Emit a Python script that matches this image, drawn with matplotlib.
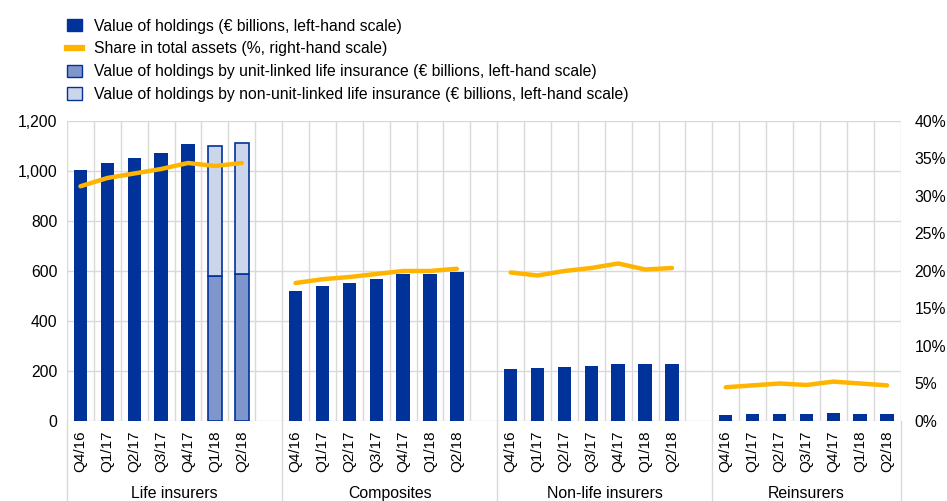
import matplotlib.pyplot as plt
from matplotlib.patches import Patch
from matplotlib.lines import Line2D
import numpy as np

plt.rcParams['font.family'] = ['Liberation Sans', 'DejaVu Sans']

groups = ["Life insurers", "Composites", "Non-life insurers", "Reinsurers"]
quarters = ["Q4/16", "Q1/17", "Q2/17", "Q3/17", "Q4/17", "Q1/18", "Q2/18"]

# value of holdings (EUR billions)
holdings = {
    "Life insurers": [1005, 1030, 1051, 1073, 1106, None, None],
    "Composites": [521, 540, 552, 567, 587, 587, 595],
    "Non-life insurers": [207, 211, 217, 220, 227, 227, 228],
    "Reinsurers": [25, 26, 26, 26, 30, 27, 26],
}
# life insurers Q1/18 and Q2/18 split
unit_linked = [579, 587]
non_unit_linked = [521, 526]
# share in total assets (%)
share = {
    "Life insurers": [31.3, 32.4, 33.0, 33.6, 34.4, 34.0, 34.4],
    "Composites": [18.4, 18.9, 19.2, 19.6, 20.0, 20.0, 20.3],
    "Non-life insurers": [19.8, 19.4, 20.0, 20.4, 21.0, 20.2, 20.4],
    "Reinsurers": [4.5, 4.75, 5.0, 4.8, 5.25, 5.0, 4.75],
}

dark = "#003299"
mid = "#7F96CD"
light = "#CCD6EB"
yellow = "#FFB400"
grid = "#D9D9D9"

fig = plt.figure(figsize=(9.47, 5.01), dpi=100)
ax = fig.add_axes([0.0708, 0.1597, 0.8801, 0.5988])
ax2 = ax.twinx()

w = 0.5
xticks, xlabels = [], []
for gi, g in enumerate(groups):
    xs = np.arange(7) + gi * 8
    xticks += list(xs)
    xlabels += quarters
    vals = holdings[g]
    for i, v in enumerate(vals):
        if v is not None:
            ax.bar(xs[i], v, width=w, color=dark, zorder=3)
    if g == "Life insurers":
        ax.bar(xs[5:], unit_linked, width=w, color=mid, edgecolor=dark,
               linewidth=1.2, zorder=3)
        ax.bar(xs[5:], non_unit_linked, bottom=unit_linked, width=w,
               color=light, edgecolor=dark, linewidth=1.2, zorder=3)
    ax2.plot(xs, share[g], color=yellow, lw=3.2, solid_capstyle='round',
             solid_joinstyle='round', zorder=4)

ax.set_xlim(-0.5, 30.5)
ax.set_ylim(0, 1200)
ax2.set_ylim(0, 40)
ax.set_yticks(np.arange(0, 1201, 200))
ax.set_yticklabels([f"{v:,}" for v in range(0, 1201, 200)])
ax2.set_yticks(np.arange(0, 41, 5))
ax2.set_yticklabels([f"{v}%" for v in range(0, 41, 5)])
ax.set_xticks(xticks)
ax.set_xticklabels(xlabels, rotation=90)

for a in (ax, ax2):
    for s in a.spines.values():
        s.set_visible(False)
ax.tick_params(axis='x', length=0, pad=7, labelsize=11)
ax.tick_params(axis='y', length=0, pad=7, labelsize=11.3)
ax2.tick_params(axis='y', length=0, pad=10, labelsize=11.3)

# grid
for yv in range(0, 1201, 200):
    ax.axhline(yv, color=grid, lw=1, zorder=1)
for k in range(32):
    ax.axvline(k - 0.5, color=grid, lw=1, zorder=1)
ax2.set_zorder(ax.get_zorder() + 1)
ax2.patch.set_visible(False)

# group separators and labels
bounds = [-0.5, 7.5, 15.5, 23.5, 30.5]
trans = ax.get_xaxis_transform()
for sx in bounds:
    ax.plot([sx, sx], [0, -0.35], color=grid, lw=1, transform=trans,
            clip_on=False)
for gi, g in enumerate(groups):
    cx = (bounds[gi] + bounds[gi + 1]) / 2
    ax.text(cx, -0.241, g, transform=trans, ha='center', va='center',
            fontsize=11.4)

handles = [
    Patch(facecolor=dark, edgecolor=dark),
    Line2D([0], [0], color=yellow, lw=4.5),
    Patch(facecolor=mid, edgecolor=dark),
    Patch(facecolor=light, edgecolor=dark),
]
labels = [
    "Value of holdings (€ billions, left-hand scale)",
    "Share in total assets (%, right-hand scale)",
    "Value of holdings by unit-linked life insurance (€ billions, left-hand scale)",
    "Value of holdings by non-unit-linked life insurance (€ billions, left-hand scale)",
]
fig.legend(handles, labels, loc='upper left', bbox_to_anchor=(0.0707, 0.963),
           frameon=False, fontsize=11.3, handlelength=0.95, handleheight=0.85,
           handletextpad=0.8, labelspacing=0.5, borderaxespad=0,
           borderpad=0)

fig.savefig("out.png", dpi=100)
